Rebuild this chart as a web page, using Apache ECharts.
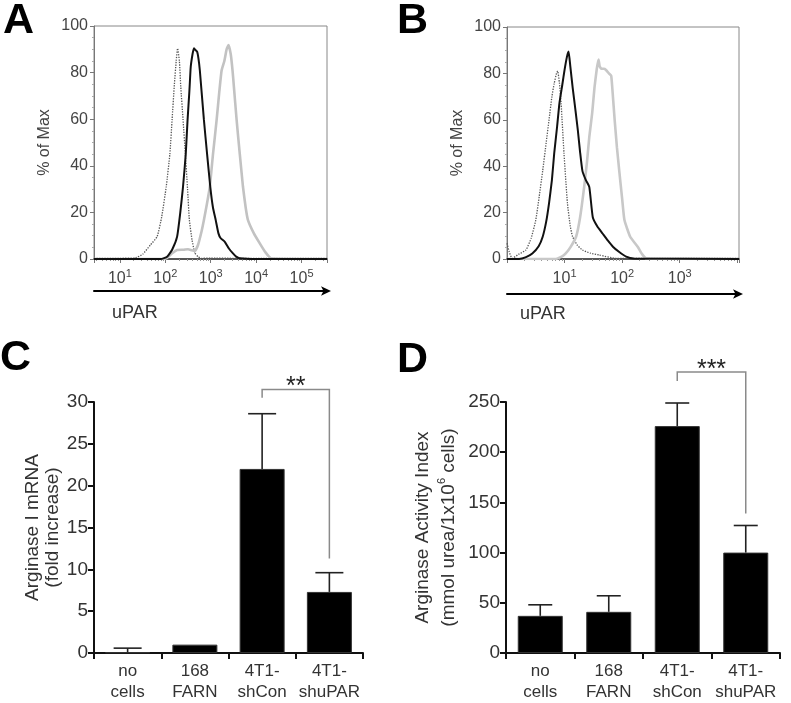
<!DOCTYPE html>
<html><head><meta charset="utf-8">
<script src="https://cdn.jsdelivr.net/npm/echarts@6/dist/echarts.min.js"></script>
<style>html,body{margin:0;padding:0;background:#fff}#c{width:791px;height:703px}</style>
</head><body><div id="c"></div>
<script>
const FONT = '"Liberation Sans", Arial, Helvetica, sans-serif';

// ---- Panel A: flow histograms (x = log10 uPAR intensity, y = % of Max)
const aIsoX   = [0.43, 1.0, 1.34, 1.5, 1.67, 1.82, 1.92, 2.02, 2.1, 2.15, 2.2, 2.24, 2.27, 2.31, 2.34, 2.39, 2.44, 2.49, 2.53, 2.59, 2.65, 2.72, 2.8, 3.0, 3.5, 4.0, 5.56];
const aIsoY   = [0.3, 0.3, 0.5, 2, 6, 9.6, 18, 31, 45, 60, 75, 85, 90.4, 85, 74, 60, 45.4, 30, 16.7, 8, 2.6, 1, 0.3, 0.4, 0.3, 0.3, 0.3];
const aShConX = [0.43, 1.9, 2.04, 2.15, 2.26, 2.33, 2.39, 2.45, 2.49, 2.53, 2.56, 2.6, 2.63, 2.65, 2.7, 2.73, 2.76, 2.85, 2.92, 2.99, 3.05, 3.11, 3.17, 3.22, 3.31, 3.4, 3.49, 3.56, 3.64, 4.0, 5.56];
const aShConY = [0, 0, 1, 4, 9.6, 20, 31, 45, 59.7, 72, 82.5, 88, 90.5, 90, 89, 86, 81, 59.7, 45, 31, 22, 16.7, 11, 8.9, 7.4, 4.5, 2.4, 1, 0.3, 0, 0];
const aShPX   = [0.43, 1.95, 2.04, 2.15, 2.26, 2.4, 2.5, 2.58, 2.65, 2.72, 2.8, 2.85, 2.92, 2.98, 3.05, 3.13, 3.19, 3.24, 3.3, 3.35, 3.39, 3.44, 3.48, 3.51, 3.57, 3.64, 3.71, 3.77, 3.82, 3.95, 4.08, 4.2, 4.33, 5.56];
const aShPY   = [0, 0, 0.5, 2.5, 3.9, 4, 4.2, 3.8, 3.5, 6, 12, 16.7, 24, 31, 45, 59.7, 72, 81, 85, 90, 91.8, 88, 81, 74, 59.7, 45, 31, 22, 16.7, 11, 6.7, 3, 0.3, 0];

// ---- Panel B
const bIsoX   = [0, 0.04, 0.09, 0.2, 0.33, 0.42, 0.5, 0.56, 0.62, 0.68, 0.73, 0.78, 0.82, 0.86, 0.88, 0.91, 0.94, 0.99, 1.05, 1.1, 1.14, 1.22, 1.31, 1.45, 1.6, 1.9, 4.03];
const bIsoY   = [6.8, 3, 0.3, 2, 3.9, 9, 16.8, 27, 38, 50, 60, 70, 75.7, 80, 81, 76, 67, 45.5, 24, 14, 9.6, 6, 3.9, 2.5, 1.7, 0.3, 0.3];
const bShConX = [0, 0.21, 0.33, 0.44, 0.55, 0.62, 0.68, 0.73, 0.78, 0.82, 0.87, 0.91, 0.96, 1.0, 1.04, 1.07, 1.1, 1.14, 1.19, 1.23, 1.27, 1.31, 1.37, 1.43, 1.49, 1.57, 1.66, 1.75, 1.84, 1.95, 2.07, 2.2, 4.03];
const bShConY = [0, 0, 0.8, 2.4, 5.5, 9.6, 16, 24, 34, 45.5, 57, 67, 75, 81.5, 87, 89.4, 83, 74, 64, 55.6, 46, 38, 34, 31, 18, 14, 11, 8, 5.3, 3, 1, 0.2, 0];
const bShPX   = [0, 0.85, 0.95, 1.02, 1.1, 1.2, 1.27, 1.34, 1.39, 1.43, 1.48, 1.52, 1.56, 1.59, 1.61, 1.64, 1.68, 1.72, 1.77, 1.81, 1.84, 1.87, 1.91, 1.95, 2.0, 2.04, 2.14, 2.27, 2.35, 2.42, 4.03];
const bShPY   = [0, 0, 1, 2.4, 5, 9.6, 18, 31, 42, 52.7, 63, 74, 82, 86, 83, 82, 82, 81.5, 80, 79, 70, 60, 48, 38, 26, 16.8, 9.6, 5.3, 2, 0.3, 0];

// x-axis extents (log10) and labelled decades for A and B
const aExtent = [0.43, 5.56];
const bExtent = [0, 4.03];
const aTickExp = [1, 2, 3, 4, 5];
const bTickExp = [0, 1, 2, 3];

// ---- Panels C and D: bar charts
const categories = ['no\ncells', '168\nFARN', '4T1-\nshCon', '4T1-\nshuPAR'];
const cMean = [0.08, 1.0, 22.0, 7.3];
const cErr  = [0.5, 0, 6.6, 2.3];
const dMean = [37, 41, 226, 100];
const dErr  = [11, 16, 23, 27];
// significance brackets: [fromIndex, toIndex, barY, leftEndY, rightEndY]
const cBracket = [2, 3, 31.5, 30.5, 11.3];
const dBracket = [2, 3, 280, 271, 139];
const cStars = '**';
const dStars = '***';

const toPairs = (xs, ys) => xs.map((e, i) => [Math.pow(10, e), ys[i]]);

const supFmt = exps => v => {
  const e = Math.log10(v), r = Math.round(e);
  if (Math.abs(e - r) > 1e-6 || exps.indexOf(r) < 0) return '';
  return '{b|10}{s|' + r + '}';
};

const logRich = {
  b: {fontSize: 16, color: '#444', fontFamily: FONT, lineHeight: 22},
  s: {fontSize: 11, color: '#444', fontFamily: FONT, verticalAlign: 'top'}
};

function flowX(grid, ext, exps) {
  return {
    gridIndex: grid, type: 'log', logBase: 10,
    min: Math.pow(10, ext[0]), max: Math.pow(10, ext[1]),
    axisLine: {lineStyle: {color: '#333', width: 1.5}},
    axisTick: {show: true, length: 4, lineStyle: {color: '#777'}},
    minorTick: {show: true, splitNumber: 9, length: 2, lineStyle: {color: '#999'}},
    splitLine: {show: false},
    axisLabel: {formatter: supFmt(exps), rich: logRich, margin: 9, showMinLabel: false, showMaxLabel: false, color: '#444'}
  };
}
function arrowX(grid, offset) {
  return {
    gridIndex: grid, type: 'value', min: 0, max: 1, position: 'bottom', offset: offset,
    axisLine: {show: true, symbol: ['none', 'arrow'], symbolSize: [7, 10], symbolOffset: [0, 4], lineStyle: {color: '#000', width: 2}},
    axisTick: {show: false}, axisLabel: {show: false}, splitLine: {show: false}
  };
}
function flowY(grid) {
  return {
    gridIndex: grid, type: 'value', min: 0, max: 100, interval: 20,
    name: '% of Max', nameLocation: 'middle', nameRotate: 90, nameGap: 41,
    nameTextStyle: {fontSize: 16, color: '#444', fontFamily: FONT},
    axisLine: {show: true, lineStyle: {color: '#777', width: 1}},
    axisTick: {show: true, length: 4, lineStyle: {color: '#777'}},
    minorTick: {show: true, splitNumber: 4, length: 2, lineStyle: {color: '#aaa'}},
    splitLine: {show: false},
    axisLabel: {fontSize: 16, color: '#444', fontFamily: FONT, margin: 6}
  };
}
function lineS(xi, data, color, width, type, z) {
  return {
    type: 'line', xAxisIndex: xi, yAxisIndex: xi, data: data, showSymbol: false, symbol: 'none',
    smooth: 0.15, lineStyle: {color: color, width: width, type: type}, z: z, clip: true
  };
}
function barX(grid) {
  return {
    gridIndex: grid, type: 'category', data: categories,
    axisLine: {lineStyle: {color: '#111', width: 2}},
    axisTick: {show: true, length: 6, lineStyle: {color: '#111', width: 2}},
    axisLabel: {interval: 0, fontSize: 17, lineHeight: 21, color: '#333', fontFamily: FONT, margin: 8, align: 'center'}
  };
}
function barY(grid, max, interval, name, gap, lh) {
  return {
    gridIndex: grid, type: 'value', min: 0, max: max, interval: interval,
    name: name, nameLocation: 'middle', nameRotate: 90, nameGap: gap,
    nameTextStyle: {fontSize: 19, lineHeight: lh, color: '#333', fontFamily: FONT,
      rich: {a: {fontSize: 19, color: '#333', fontFamily: FONT, lineHeight: lh}, s: {fontSize: 11, color: '#333', fontFamily: FONT, verticalAlign: 'top'}}},
    axisLine: {show: true, lineStyle: {color: '#111', width: 2}},
    axisTick: {show: true, length: 6, lineStyle: {color: '#111', width: 2}},
    splitLine: {show: false},
    axisLabel: {fontSize: 19, color: '#333', fontFamily: FONT, margin: 6}
  };
}
function errSeries(idx, mean, err, cap) {
  return {
    type: 'custom', xAxisIndex: idx, yAxisIndex: idx, z: 3, clip: false,
    data: mean.map((m, i) => [i, m, err[i]]),
    renderItem: function (params, api) {
      const i = api.value(0), m = api.value(1), e = api.value(2);
      if (!e) return null;
      const p0 = api.coord([i, m]), p1 = api.coord([i, m + e]);
      const st = {stroke: '#222', lineWidth: 1.6};
      return {type: 'group', children: [
        {type: 'line', shape: {x1: p0[0], y1: p0[1], x2: p1[0], y2: p1[1]}, style: st},
        {type: 'line', shape: {x1: p1[0] - cap, y1: p1[1], x2: p1[0] + cap, y2: p1[1]}, style: st}
      ]};
    }
  };
}
function bracketSeries(idx, br, stars) {
  return {
    type: 'custom', xAxisIndex: idx, yAxisIndex: idx, z: 4, clip: false,
    data: [br],
    renderItem: function (params, api) {
      const a = api.coord([api.value(0), api.value(2)]);
      const b = api.coord([api.value(1), api.value(2)]);
      const la = api.coord([api.value(0), api.value(3)]);
      const rb = api.coord([api.value(1), api.value(4)]);
      return {type: 'group', children: [
        {type: 'polyline', shape: {points: [la, a, b, rb]}, style: {stroke: '#8a8a8a', lineWidth: 1.5, fill: null}},
        {type: 'text', x: (a[0] + b[0]) / 2, y: a[1] - 2,
          style: {text: stars, align: 'center', verticalAlign: 'middle', fontSize: 25, fontFamily: FONT, fill: '#222'}}
      ]};
    }
  };
}
function barSeries(idx, mean) {
  return {
    type: 'bar', xAxisIndex: idx, yAxisIndex: idx, data: mean, barWidth: 45, z: 2,
    itemStyle: {color: '#000', borderColor: '#333', borderWidth: 1}
  };
}

const chart = echarts.init(document.getElementById('c'), null, {renderer: 'canvas'});
chart.setOption({
  backgroundColor: '#fff',
  animation: false,
  textStyle: {fontFamily: FONT},
  grid: [
    {left: 94, top: 26, width: 233, height: 233, show: true, borderColor: '#888', borderWidth: 1},
    {left: 507, top: 27, width: 232, height: 232, show: true, borderColor: '#888', borderWidth: 1},
    {left: 94, top: 402, width: 269, height: 251},
    {left: 506, top: 402, width: 274, height: 251}
  ],
  xAxis: [flowX(0, aExtent, aTickExp), flowX(1, bExtent, bTickExp), barX(2), barX(3), arrowX(0, 32), arrowX(1, 35)],
  yAxis: [
    flowY(0), flowY(1),
    barY(2, 30, 5, 'Arginase I mRNA\n(fold increase)', 31, 20),
    barY(3, 250, 50, '{a|Arginase Activity Index}\n{a|(mmol urea/1x10}{s|6}{a| cells)}', 44, 26)
  ],
  series: [
    lineS(0, toPairs(aIsoX, aIsoY), '#555', 1.3, 'dotted', 2),
    lineS(0, toPairs(aShPX, aShPY), '#c2c2c2', 2.6, 'solid', 3),
    lineS(0, toPairs(aShConX, aShConY), '#111', 2, 'solid', 4),
    lineS(1, toPairs(bIsoX, bIsoY), '#555', 1.3, 'dotted', 2),
    lineS(1, toPairs(bShPX, bShPY), '#c8c8c8', 2.6, 'solid', 3),
    lineS(1, toPairs(bShConX, bShConY), '#111', 2, 'solid', 4),
    barSeries(2, cMean), errSeries(2, cMean, cErr, 14), bracketSeries(2, cBracket, cStars),
    barSeries(3, dMean), errSeries(3, dMean, dErr, 12), bracketSeries(3, dBracket, dStars)
  ],
  graphic: [
    {type: 'text', x: 3, y: 21, style: {text: 'A', font: 'bold 43px ' + FONT, fill: '#000', verticalAlign: 'middle'}},
    {type: 'text', x: 397, y: 21, style: {text: 'B', font: 'bold 43px ' + FONT, fill: '#000', verticalAlign: 'middle'}},
    {type: 'text', x: 0, y: 358, style: {text: 'C', font: 'bold 43px ' + FONT, fill: '#000', verticalAlign: 'middle'}},
    {type: 'text', x: 397, y: 360, style: {text: 'D', font: 'bold 43px ' + FONT, fill: '#000', verticalAlign: 'middle'}},
    {type: 'text', x: 112, y: 313, style: {text: 'uPAR', font: '18px ' + FONT, fill: '#333', verticalAlign: 'middle'}},
    {type: 'text', x: 520, y: 314, style: {text: 'uPAR', font: '18px ' + FONT, fill: '#333', verticalAlign: 'middle'}}
  ]
});
</script>
</body></html>
